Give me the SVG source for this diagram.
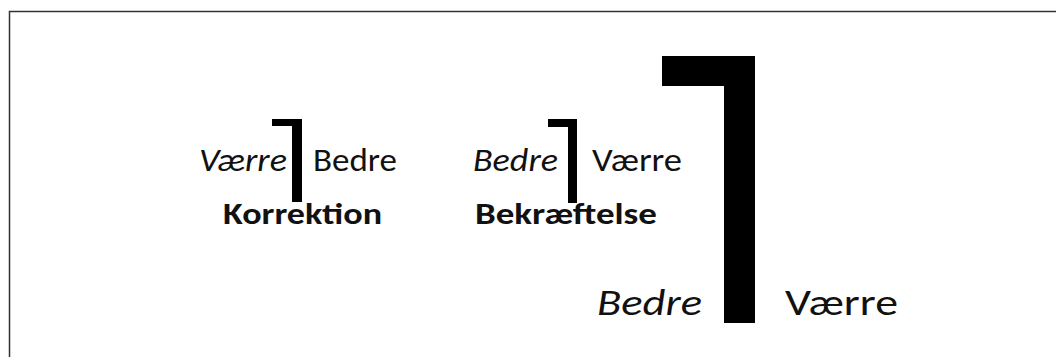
<svg xmlns="http://www.w3.org/2000/svg" width="1056" height="357" viewBox="0 0 1056 357">
<style>
text{font-family:Carlito,Lato,"Open Sans",sans-serif;fill:#111}
.i{font-style:italic}
.b{font-weight:bold;font-size:30px}
.s{font-size:32px}
.l{font-size:36px}
.bar{fill:#000}
</style>
<rect width="1056" height="357" fill="#fff"/>
<path d="M9.5,357 V11.5 H1056" fill="none" stroke="#333" stroke-width="1.5"/>
<g id="korrektion">
<path class="bar" d="M272,119 H302 V202 H292 V126 H272 Z"/>
<text class="s i" x="199" y="171" textLength="88" lengthAdjust="spacingAndGlyphs">Værre</text>
<text class="s" x="313" y="171" textLength="84" lengthAdjust="spacingAndGlyphs">Bedre</text>
<text class="b" x="223" y="224" textLength="159" lengthAdjust="spacingAndGlyphs">Korrektion</text>
</g>
<g id="bekraeftelse">
<path class="bar" d="M548,119 H577 V203 H568 V127 H548 Z"/>
<text class="s i" x="473" y="171" textLength="85" lengthAdjust="spacingAndGlyphs">Bedre</text>
<text class="s" x="592" y="171" textLength="90" lengthAdjust="spacingAndGlyphs">Værre</text>
<text class="b" x="475" y="224" textLength="182" lengthAdjust="spacingAndGlyphs">Bekræftelse</text>
</g>
<g id="stor">
<path class="bar" d="M662,56 H755 V323 H724 V86 H662 Z"/>
<text class="l i" x="597" y="315" textLength="105" lengthAdjust="spacingAndGlyphs">Bedre</text>
<text class="l" x="785" y="315" textLength="113" lengthAdjust="spacingAndGlyphs">Værre</text>
</g>
<g id="connectors"/>
</svg>
